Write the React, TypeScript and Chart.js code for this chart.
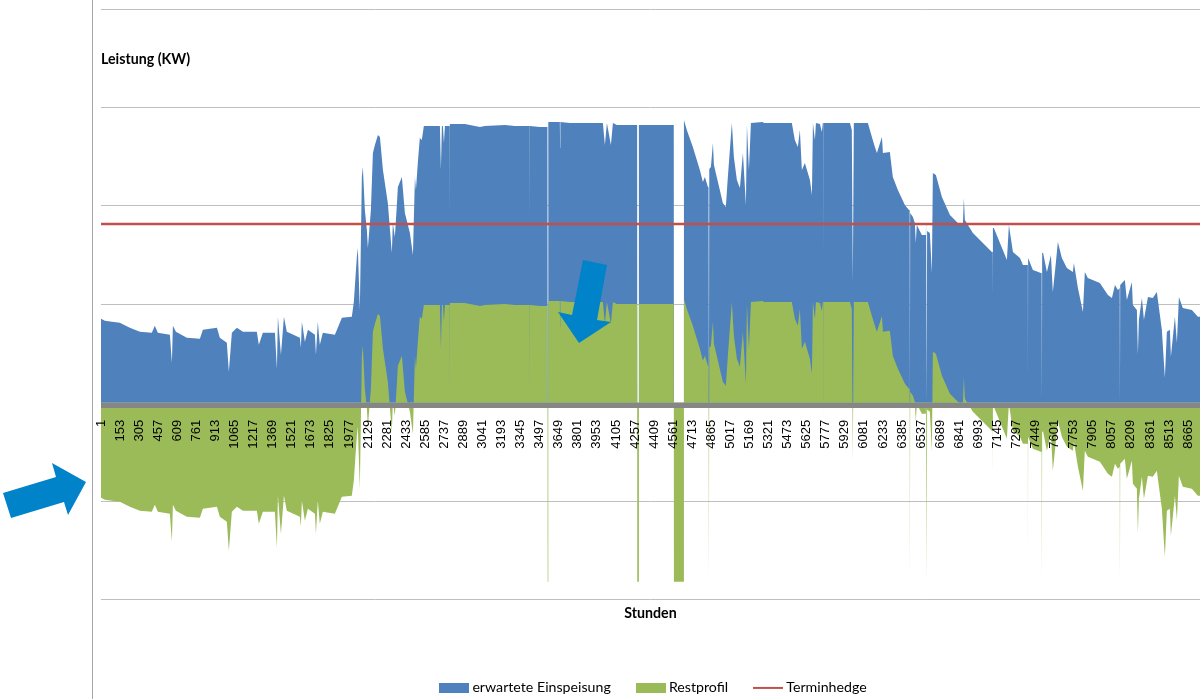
import React, { useEffect, useRef } from "react";
import { Chart, registerables } from "chart.js";

Chart.register(...registerables);

const hours = [
  1, 32, 88, 151, 231, 311, 406, 430, 454, 550,
  566, 574, 598, 685, 789, 813, 925, 948, 1004, 1020,
  1044, 1084, 1132, 1243, 1259, 1291, 1387, 1403, 1411, 1435,
  1459, 1482, 1586, 1594, 1602, 1626, 1650, 1706, 1714, 1729,
  1745, 1769, 1865, 1921, 2000, 2016, 2040, 2048, 2064, 2080,
  2088, 2104, 2120, 2128, 2152, 2168, 2184, 2208, 2224, 2248,
  2287, 2319, 2327, 2343, 2359, 2367, 2399, 2423, 2463, 2487,
  2503, 2511, 2526, 2542, 2558, 2574, 2702, 2710, 2718, 2726,
  2734, 2742, 2773, 2780, 2781, 2782, 2901, 2981, 3021, 3060,
  3220, 3300, 3418, 3419, 3420, 3499, 3559, 3561, 3564, 3566,
  3658, 3660, 3662, 3738, 4001, 4017, 4033, 4065, 4081, 4113,
  4274, 4275, 4287, 4288, 4566, 4567, 4646, 4647, 4670, 4718,
  4774, 4798, 4814, 4838, 4843, 4846, 4849, 4862, 4878, 4886,
  4933, 4957, 4981, 4997, 5029, 5045, 5069, 5093, 5117, 5141,
  5149, 5165, 5181, 5276, 5284, 5507, 5531, 5555, 5571, 5587,
  5611, 5651, 5667, 5675, 5691, 5699, 5731, 5746, 5754, 5761,
  5762, 5763, 5970, 5985, 5993, 6001, 6113, 6145, 6169, 6185,
  6225, 6233, 6288, 6312, 6352, 6408, 6440, 6446, 6448, 6450,
  6472, 6487, 6495, 6503, 6543, 6575, 6577, 6581, 6583, 6585,
  6607, 6623, 6631, 6655, 6703, 6767, 6830, 6870, 6878, 6886,
  6950, 7101, 7108, 7109, 7110, 7117, 7221, 7237, 7269, 7325, 7349, 7381, 7388,
  7389, 7390, 7396, 7428, 7492, 7498, 7500, 7502, 7508, 7540, 7572,
  7587, 7611, 7627, 7659, 7699, 7747, 7755, 7787, 7827, 7842,
  7866, 7962, 8026, 8058, 8082, 8106, 8120, 8122, 8124, 8161,
  8177, 8217, 8225, 8257, 8265, 8273, 8297, 8313, 8345, 8384,
  8416, 8456, 8480, 8496, 8520, 8528, 8560, 8576, 8592, 8623,
  8695, 8743, 8760,
];

const einspeisung = [
  84, 82, 81, 80, 75, 71, 70, 77, 70, 68,
  40, 77, 71, 65, 64, 73, 75, 65, 60, 31,
  70, 75, 71, 71, 58, 70, 70, 34, 86, 48,
  86, 71, 65, 55, 81, 61, 73, 68, 48, 81,
  58, 70, 68, 85, 86, 101, 146, 155, 93, 226,
  236, 193, 173, 155, 193, 250, 258, 268, 266, 233,
  200, 150, 180, 166, 198, 216, 226, 190, 170, 148,
  226, 213, 240, 265, 263, 277, 277, 233, 277, 277,
  260, 277, 277, 277, 182, 279, 279, 277, 276, 277,
  278, 277, 277, 182, 277, 276, 276, 0, 0, 281,
  281, 255, 281, 280, 280, 258, 280, 258, 280, 278,
  278, 0, 0, 278, 278, 0, 0, 283, 273, 256,
  233, 221, 226, 216, 216, 0, 234, 236, 260, 238,
  213, 200, 196, 226, 280, 246, 223, 215, 250, 198,
  278, 233, 280, 281, 280, 280, 263, 256, 273, 233,
  240, 223, 208, 280, 263, 280, 279, 271, 280, 280,
  140, 280, 280, 273, 120, 280, 280, 266, 256, 250,
  266, 250, 251, 226, 213, 198, 193, 193, 0, 190,
  186, 180, 160, 178, 168, 168, 183, 180, 0, 172,
  170, 130, 230, 228, 206, 188, 180, 178, 205, 183,
  170, 151, 151, 106, 175, 175, 143, 178, 151, 145, 138, 138, 138,
  23, 145, 145, 133, 130, 130, 0, 150, 151, 131, 148,
  111, 140, 161, 145, 135, 131, 140, 115, 91, 131,
  125, 120, 108, 105, 118, 113, 115, 0, 118, 123,
  103, 121, 98, 93, 48, 83, 105, 83, 106, 105,
  111, 73, 25, 71, 73, 46, 86, 60, 106, 95,
  93, 86, 86,
];

const restprofil = [
  -95, -97, -98, -99, -104, -108, -109, -102, -109, -111,
  -139, -102, -108, -114, -115, -106, -104, -114, -119, -148,
  -109, -104, -108, -108, -121, -109, -109, -145, -93, -131,
  -93, -108, -114, -124, -98, -118, -106, -111, -131, -98,
  -121, -109, -111, -94, -93, -78, -33, -24, -86, 47,
  57, 14, -6, -24, 14, 71, 79, 89, 87, 54,
  21, -29, 1, -13, 19, 37, 47, 11, -9, -31,
  47, 34, 61, 86, 84, 98, 98, 54, 98, 98,
  81, 98, 98, 98, 3, 100, 100, 98, 97, 98,
  99, 98, 98, 3, 98, 97, 97, -179, -179, 102,
  102, 76, 102, 101, 101, 79, 101, 79, 101, 99,
  99, -179, -179, 99, 99, -179, -179, 104, 94, 77,
  54, 42, 47, 37, 37, -179, 55, 57, 81, 59,
  34, 21, 17, 47, 101, 67, 44, 36, 71, 19,
  99, 54, 101, 102, 101, 101, 84, 77, 94, 54,
  61, 44, 29, 101, 84, 101, 100, 92, 101, 101,
  -39, 101, 101, 94, -59, 101, 101, 87, 77, 71,
  87, 71, 72, 47, 34, 19, 14, 14, -179, 11,
  7, 1, -19, -1, -11, -11, 4, 1, -179, -7,
  -9, -49, 51, 49, 27, 9, 1, -1, 26, 4,
  -9, -28, -28, -73, -4, -4, -36, -1, -28, -34, -41, -41, -41,
  -156, -34, -34, -46, -49, -49, -179, -29, -28, -48, -31,
  -68, -39, -18, -34, -44, -48, -39, -64, -88, -48,
  -54, -59, -71, -74, -61, -66, -64, -179, -61, -56,
  -76, -58, -81, -86, -131, -96, -74, -96, -73, -74,
  -68, -106, -154, -108, -106, -133, -93, -117, -73, -84,
  -86, -93, -93,
];

const terminhedgeHours = [1, 8760];
const terminhedge = [179, 179];

const xTicks = [
  1, 153, 305, 457, 609, 761, 913, 1065, 1217, 1369, 1521, 1673, 1825, 1977,
  2129, 2281, 2433, 2585, 2737, 2889, 3041, 3193, 3345, 3497, 3649, 3801,
  3953, 4105, 4257, 4409, 4561, 4713, 4865, 5017, 5169, 5321, 5473, 5625,
  5777, 5929, 6081, 6233, 6385, 6537, 6689, 6841, 6993, 7145, 7297, 7449,
  7601, 7753, 7905, 8057, 8209, 8361, 8513, 8665,
];

const seriesNames = ["erwartete Einspeisung", "Restprofil", "Terminhedge"];
const yAxisTitle = "Leistung (KW)";
const xAxisTitle = "Stunden";

const BLUE = "#4F81BD";
const GREEN = "#9BBB59";
const RED = "#C0504D";

function legendSwatch(color: string, line: boolean) {
  const c = document.createElement("canvas");
  c.width = 30;
  c.height = 10;
  const g = c.getContext("2d")!;
  g.fillStyle = color;
  if (line) g.fillRect(0, 4, 30, 2);
  else g.fillRect(0, 0, 30, 10);
  return c;
}

const arrowRight = [[3, 493], [11, 518], [64, 502], [68, 515], [86, 482], [52, 463], [56, 477]];
const arrowDown = [[583, 260], [607, 265], [597, 320], [611, 322], [579, 343], [558, 312], [572, 315]];

const decorations = {
  id: "decorations",
  afterLayout(chart: any) {
    chart.legend.left += 4.5;
    chart.legend.right += 4.5;
  },
  beforeDraw(chart: any) {
    const g = chart.ctx;
    g.save();
    g.fillStyle = "#A6A6A6";
    g.fillRect(92, 0, 1, chart.height);
    g.restore();
  },
  afterDraw(chart: any) {
    const g = chart.ctx;
    g.save();
    g.fillStyle = "#FFFFFF";
    g.fillRect(96, 400, 5, 10);
    g.fillStyle = "#000000";
    g.font = "bold 14.2px Lato";
    g.textBaseline = "middle";
    g.textAlign = "left";
    g.fillText(yAxisTitle, 101, 59);
    for (const poly of [arrowRight, arrowDown]) {
      g.beginPath();
      poly.forEach(([x, y], i) => (i ? g.lineTo(x, y) : g.moveTo(x, y)));
      g.closePath();
      g.fillStyle = "#0083C9";
      g.fill();
    }
    g.restore();
  },
};

export default function App() {
  const ref = useRef<HTMLCanvasElement>(null);
  useEffect(() => {
    const swatches = [legendSwatch(BLUE, false), legendSwatch(GREEN, false), legendSwatch(RED, true)];
    const chart = new Chart(ref.current!, {
      type: "line",
      data: {
        datasets: [
          {
            label: seriesNames[0],
            data: hours.map((h, i) => ({ x: h, y: einspeisung[i] })),
            backgroundColor: BLUE,
            borderColor: BLUE,
            borderWidth: 0,
            pointRadius: 0,
            fill: "origin",
            order: 2,
          },
          {
            label: seriesNames[1],
            data: hours.map((h, i) => ({ x: h, y: restprofil[i] })),
            backgroundColor: GREEN,
            borderColor: GREEN,
            borderWidth: 0,
            pointRadius: 0,
            fill: "origin",
            order: 1,
          },
          {
            label: seriesNames[2],
            data: terminhedgeHours.map((h, i) => ({ x: h, y: terminhedge[i] })),
            borderColor: RED,
            backgroundColor: RED,
            borderWidth: 2.5,
            pointRadius: 0,
            fill: false,
            order: 0,
          },
        ],
      },
      options: {
        responsive: false,
        animation: false,
        events: [],
        layout: { padding: { left: 101, top: 9, right: 0, bottom: -6 } },
        scales: {
          x: {
            type: "linear",
            min: 1,
            max: 8760,
            position: { y: -3 } as any,
            afterBuildTicks: (scale: any) => {
              scale.ticks = xTicks.map((v) => ({ value: v }));
            },
            afterFit: (scale: any) => {
              scale.paddingRight = 0;
              scale.paddingLeft = 0;
            },
            grid: { display: false },
            border: { display: true, color: "#868686", width: 5, z: 1 },
            ticks: {
              z: 2,
              autoSkip: false,
              minRotation: 90,
              maxRotation: 90,
              padding: 6,
              color: "#000000",
              font: { family: "Liberation Sans", size: 13 },
              callback: (v: any) => String(v),
            },
          },
          y: {
            min: -197,
            max: 394,
            ticks: { stepSize: 98.5, display: false },
            grid: { color: "#BFBFBF", drawTicks: false, lineWidth: 1 },
            border: { display: false },
          },
        },
        plugins: {
          tooltip: { enabled: false },
          title: {
            display: true,
            text: xAxisTitle,
            position: "bottom",
            weight: 500,
            fullSize: false,
            color: "#000000",
            font: { family: "Lato", size: 14.2, weight: "bold" },
            padding: { top: 5, bottom: 30 },
          },
          legend: {
            display: true,
            position: "bottom",
            fullSize: false,
            weight: 1000,
            labels: {
              usePointStyle: true,
              pointStyleWidth: 22,
              padding: 29,
              color: "#000000",
              font: { family: "Lato", size: 14.2 },
              generateLabels: () =>
                seriesNames.map((text, i) => ({
                  text,
                  datasetIndex: i,
                  pointStyle: swatches[i],
                  fillStyle: "rgba(0,0,0,0)",
                  strokeStyle: "rgba(0,0,0,0)",
                  lineWidth: 0,
                  hidden: false,
                })),
            },
          },
        },
      },
      plugins: [decorations],
    } as any);
    return () => chart.destroy();
  }, []);
  return (
    <div style={{ position: "absolute", left: 0, top: 0, width: 1200, height: 699 }}>
      <canvas ref={ref} width={1200} height={699} style={{ display: "block" }} />
    </div>
  );
}
